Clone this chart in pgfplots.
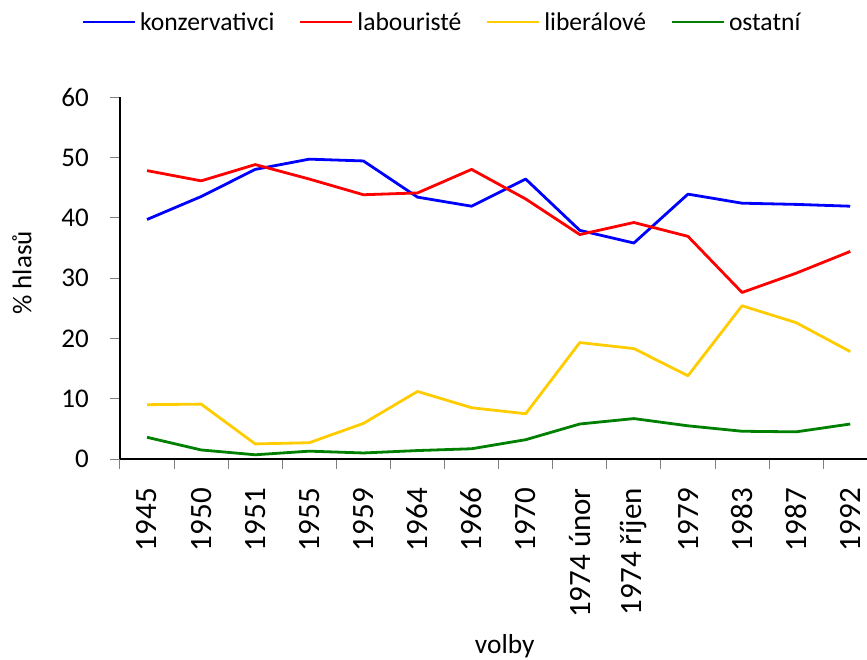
\documentclass[border=0pt]{standalone}
\usepackage{fontspec}
\setmainfont{Carlito}
\usepackage{pgfplots}
\pgfplotsset{compat=1.18}
\definecolor{konz}{HTML}{0000FF}
\definecolor{lab}{HTML}{FF0000}
\definecolor{lib}{HTML}{FFCC00}
\definecolor{ost}{HTML}{008000}

\begin{document}
\begin{tikzpicture}
\clip (-120pt,-200pt) rectangle (747pt,459pt);
\begin{axis}[
  scale only axis,
  width=747pt, height=362pt,
  xmin=-0.5, xmax=13.31,
  ymin=0, ymax=60,
  axis lines=left,
  axis line style={-, line width=1.3pt},
  xtick={0,...,13},
  xticklabels={1945,1950,1951,1955,1959,1964,1966,1970,1974 únor,1974 říjen,1979,1983,1987,1992},
  minor xtick={-0.5,0.5,...,13.5},
  ytick={0,10,...,60},
  tick align=outside,
  major tick length=10pt,
  minor tick length=10pt,
  major x tick style={draw=none},
  minor x tick style={draw=black!50, line width=1pt},
  ytick style={draw=black!50, line width=1pt},
  xticklabel style={font=\fontsize{31}{36}\selectfont, rotate=90, anchor=east, inner sep=0pt},
  xticklabel shift=19pt,
  yticklabel style={font=\fontsize{27}{32}\selectfont, inner sep=0pt},
  yticklabel shift=21pt,
  /pgf/number format/assume math mode=true,
  xlabel={volby},
  ylabel={\% hlasů},
  every axis x label/.style={at={(axis description cs:0.515,-0.5166)}, anchor=center, font=\fontsize{27.4}{32}\selectfont},
  every axis y label/.style={at={(axis description cs:-0.1312,0.514)}, anchor=center, rotate=90, font=\fontsize{27}{32}\selectfont},
  legend columns=4,
  legend image code/.code={\draw[#1] (0pt,0pt) -- (52pt,0pt);},
  legend style={at={(axis description cs:-0.0522,1.207)}, anchor=west, draw=none, fill=none, inner sep=0pt,
    font=\fontsize{25.6}{30}\selectfont,
    nodes={inner xsep=4pt, inner ysep=0pt},
    /tikz/every even column/.append style={column sep=20pt}},
  every axis plot/.append style={line width=2.8pt, line join=round},
]
\addplot[konz] coordinates {
  (0,39.7) (1,43.5) (2,48.0) (3,49.7) (4,49.4) (5,43.4) (6,41.9)
  (7,46.4) (8,37.9) (9,35.8) (10,43.9) (11,42.4) (12,42.2) (13,41.9)
};
\addlegendentry{konzervativci}
\addplot[lab] coordinates {
  (0,47.8) (1,46.1) (2,48.8) (3,46.4) (4,43.8) (5,44.1) (6,48.0)
  (7,43.1) (8,37.2) (9,39.2) (10,36.9) (11,27.6) (12,30.8) (13,34.4)
};
\addlegendentry{labouristé}
\addplot[lib] coordinates {
  (0,9.0) (1,9.1) (2,2.5) (3,2.7) (4,5.9) (5,11.2) (6,8.5)
  (7,7.5) (8,19.3) (9,18.3) (10,13.8) (11,25.4) (12,22.6) (13,17.8)
};
\addlegendentry{liberálové}
\addplot[ost] coordinates {
  (0,3.6) (1,1.5) (2,0.7) (3,1.3) (4,1.0) (5,1.4) (6,1.7)
  (7,3.2) (8,5.8) (9,6.7) (10,5.5) (11,4.6) (12,4.5) (13,5.8)
};
\addlegendentry{ostatní}
\end{axis}
\end{tikzpicture}
\end{document}
